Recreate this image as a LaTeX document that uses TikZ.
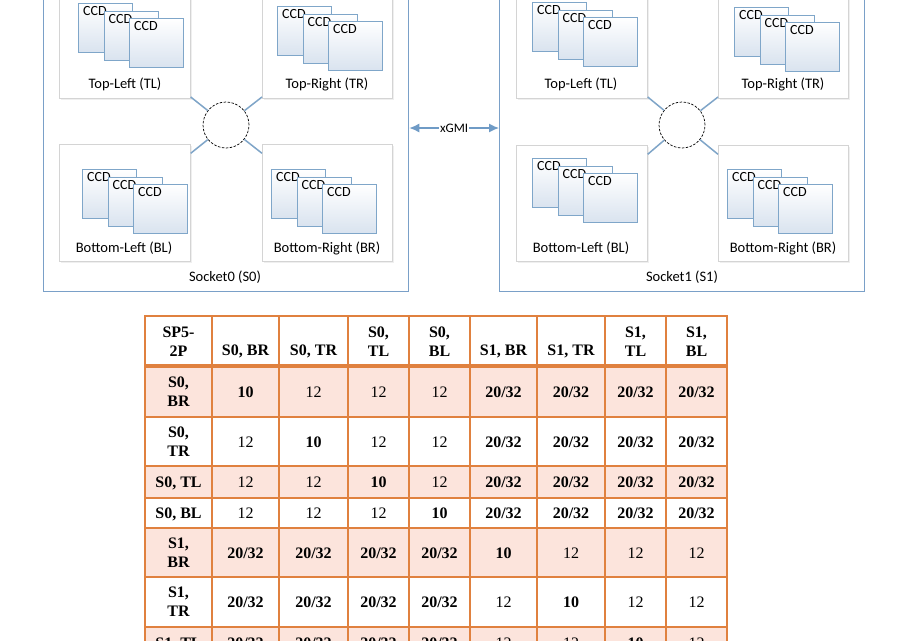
\documentclass[tikz,border=0pt]{standalone}
\usepackage{fontspec}
\setmainfont{Carlito}
\newfontfamily\tabfont{Liberation Serif}
\usetikzlibrary{arrows.meta,shadows}
\definecolor{sockblue}{HTML}{7AA0C8}
\definecolor{ccdblue}{HTML}{7FA6C9}
\definecolor{ccdfill}{HTML}{D9E3EF}
\definecolor{linkblue}{HTML}{7FA5C8}
\definecolor{arrblue}{HTML}{6F9BC6}
\definecolor{tilegray}{HTML}{D4D4D4}
\definecolor{tabor}{HTML}{E0813F}
\definecolor{tabpink}{HTML}{FCE4DC}
\newcommand\ccdstack[3]{%
  \foreach \k/\dx/\dy in {a/0/0,b/25.5/8,c/51/15}{%
    \node[ccdbox, anchor=north west] (#1\k) at (#2+\dx,#3+\dy) {};
    \node[ccdlab, anchor=north west] at ([xshift=5pt,yshift=-3pt]#1\k.north west) {CCD};
  }}
\newcommand\tabrow[3]{%
  \foreach \x/\v/\s [count=\i] in {#3}{%
    \node[\s, anchor=base] (#2-\i) at (\x,#1) {\v};
  }}
\begin{document}
\begin{tikzpicture}[x=1pt,y=-1pt,
  socket/.style={draw=sockblue, line width=1.3pt, inner sep=0pt},
  tile/.style={draw=tilegray, line width=0.7pt, fill=white, inner sep=0pt,
    drop shadow={shadow xshift=1.2pt, shadow yshift=-1.2pt, opacity=0.12}},
  ccdbox/.style={draw=ccdblue, line width=1.1pt, top color=white, bottom color=ccdfill,
    minimum width=54pt, minimum height=49pt, inner sep=0pt},
  ccdlab/.style={font=\fontsize{14}{16}\selectfont, inner sep=0pt},
  lab/.style={font=\fontsize{14.5}{16}\selectfont, inner sep=0pt},
  hub/.style={circle, draw=black, line width=0.7pt, dash pattern=on 2.5pt off 1.5pt,
    minimum size=46pt, inner sep=0pt},
  link/.style={draw=linkblue, line width=1.5pt},
  xarrow/.style={draw=arrblue, line width=1.3pt,
    {Latex[length=10pt,width=9pt]}-{Latex[length=10pt,width=9pt]}},
  xlab/.style={fill=white, inner sep=1pt, font=\fontsize{13}{15}\selectfont},
  tline/.style={draw=tabor, line width=2.2pt},
  tb/.style={font=\tabfont\bfseries\fontsize{16}{19}\selectfont, inner sep=0pt},
  tr/.style={font=\tabfont\fontsize{16}{19}\selectfont, inner sep=0pt}
]
\useasboundingbox (0,0) rectangle (915,640);
\clip (0,0) rectangle (915,640);
\fill[white] (0,0) rectangle (915,640);

% ---------- sockets ----------
\node[socket, minimum width=365pt, minimum height=340pt, anchor=south west] (s0) at (43,292) {};
\node[socket, minimum width=365pt, minimum height=340pt, anchor=south west] (s1) at (499,292) {};

% ---------- tiles socket 0 ----------
\node[tile, minimum width=131pt, minimum height=125pt, anchor=south west] (s0tl) at (59,99) {};
\node[tile, minimum width=130pt, minimum height=125pt, anchor=south west] (s0tr) at (262,99) {};
\node[tile, minimum width=131pt, minimum height=117pt, anchor=south west] (s0bl) at (59,262) {};
\node[tile, minimum width=130pt, minimum height=117pt, anchor=south west] (s0br) at (262,262) {};
% ---------- tiles socket 1 ----------
\node[tile, minimum width=131pt, minimum height=125pt, anchor=south west] (s1tl) at (516,99) {};
\node[tile, minimum width=130pt, minimum height=125pt, anchor=south west] (s1tr) at (718,99) {};
\node[tile, minimum width=131pt, minimum height=116pt, anchor=south west] (s1bl) at (516,262) {};
\node[tile, minimum width=130pt, minimum height=116pt, anchor=south west] (s1br) at (718,262) {};

% ---------- CCD stacks ----------
\ccdstack{s0tlc}{78}{3}
\ccdstack{s0trc}{277}{6}
\ccdstack{s0blc}{82}{169}
\ccdstack{s0brc}{271}{169}
\ccdstack{s1tlc}{532}{2}
\ccdstack{s1trc}{734}{7}
\ccdstack{s1blc}{532}{158}
\ccdstack{s1brc}{727}{169}

% ---------- tile labels ----------
\node[lab] (s0tlt) at (125,84) {Top-Left (TL)};
\node[lab] (s0trt) at (327,84) {Top-Right (TR)};
\node[lab] (s0blt) at (124,248) {Bottom-Left (BL)};
\node[lab] (s0brt) at (327,248) {Bottom-Right (BR)};
\node[lab] (s1tlt) at (581,84) {Top-Left (TL)};
\node[lab] (s1trt) at (783,84) {Top-Right (TR)};
\node[lab] (s1blt) at (581,248) {Bottom-Left (BL)};
\node[lab] (s1brt) at (783,248) {Bottom-Right (BR)};
\node[lab] (s0t) at (225,277) {Socket0 (S0)};
\node[lab] (s1t) at (682,277) {Socket1 (S1)};

% ---------- hubs and links ----------
\node[hub] (hubA) at (226,125) {};
\node[hub] (hubB) at (682,125) {};
\draw[link] ([yshift=2pt]s0tl.south east) -- (hubA);
\draw[link] ([yshift=2pt]s0tr.south west) -- (hubA);
\draw[link] ([yshift=-9pt]s0bl.north east) -- (hubA);
\draw[link] ([yshift=-9pt]s0br.north west) -- (hubA);
\draw[link] ([yshift=2pt]s1tl.south east) -- (hubB);
\draw[link] ([yshift=2pt]s1tr.south west) -- (hubB);
\draw[link] ([yshift=-9pt]s1bl.north east) -- (hubB);
\draw[link] ([yshift=-9pt]s1br.north west) -- (hubB);

% ---------- xGMI ----------
\draw[xarrow] (s0.east |- 0,128) -- node[xlab] (xg) {xGMI} (s1.west |- 0,128);

% ---------- table ----------
\fill[tabpink] (145,366) rectangle (727,417);
\fill[tabpink] (145,466) rectangle (727,498);
\fill[tabpink] (145,528) rectangle (727,577);
\fill[tabpink] (145,627) rectangle (727,662);
\foreach \x in {212,279,348,409,470,537,605,666} \draw[tline] (\x,316) -- (\x,662);
\foreach \y in {417,466,498,528,577,627} \draw[tline] (145,\y) -- (727,\y);
\draw[tline, line width=3.6pt] (145,366) -- (727,366);
\draw[tline, line width=2.6pt] (145,662) -- (145,316) -- (727,316) -- (727,662);

% header
\node[tb, align=center] (th0) at (178.5,341.5) {SP5-\\2P};
\node[tb, anchor=base] (th1) at (245.5,355.5) {S0, BR};
\node[tb, anchor=base] (th2) at (313.5,355.5) {S0, TR};
\node[tb, align=center] (th3) at (378.5,341.5) {S0,\\TL};
\node[tb, align=center] (th4) at (439.5,341.5) {S0,\\BL};
\node[tb, anchor=base] (th5) at (503.5,355.5) {S1, BR};
\node[tb, anchor=base] (th6) at (571,355.5) {S1, TR};
\node[tb, align=center] (th7) at (635.5,341.5) {S1,\\TL};
\node[tb, align=center] (th8) at (696.5,341.5) {S1,\\BL};

% row labels
\node[tb, align=center] (rl1) at (178.5,391.5) {S0,\\BR};
\node[tb, align=center] (rl2) at (178.5,441.5) {S0,\\TR};
\node[tb, anchor=base] (rl3) at (178.5,487.5) {S0, TL};
\node[tb, anchor=base] (rl4) at (178.5,518.5) {S0, BL};
\node[tb, align=center] (rl5) at (178.5,552.5) {S1,\\BR};
\node[tb, align=center] (rl6) at (178.5,602) {S1,\\TR};
\node[tb, anchor=base] (rl7) at (178.5,648) {S1, TL};

% values
\tabrow{397}{ra}{245.5/10/tb,313.5/12/tr,378.5/12/tr,439.5/12/tr,503.5/{20/32}/tb,571/{20/32}/tb,635.5/{20/32}/tb,696.5/{20/32}/tb}
\tabrow{447}{rb}{245.5/12/tr,313.5/10/tb,378.5/12/tr,439.5/12/tr,503.5/{20/32}/tb,571/{20/32}/tb,635.5/{20/32}/tb,696.5/{20/32}/tb}
\tabrow{487.5}{rc}{245.5/12/tr,313.5/12/tr,378.5/10/tb,439.5/12/tr,503.5/{20/32}/tb,571/{20/32}/tb,635.5/{20/32}/tb,696.5/{20/32}/tb}
\tabrow{518.5}{rd}{245.5/12/tr,313.5/12/tr,378.5/12/tr,439.5/10/tb,503.5/{20/32}/tb,571/{20/32}/tb,635.5/{20/32}/tb,696.5/{20/32}/tb}
\tabrow{558}{re}{245.5/{20/32}/tb,313.5/{20/32}/tb,378.5/{20/32}/tb,439.5/{20/32}/tb,503.5/10/tb,571/12/tr,635.5/12/tr,696.5/12/tr}
\tabrow{607.5}{rf}{245.5/{20/32}/tb,313.5/{20/32}/tb,378.5/{20/32}/tb,439.5/{20/32}/tb,503.5/12/tr,571/10/tb,635.5/12/tr,696.5/12/tr}
\tabrow{648}{rg}{245.5/{20/32}/tb,313.5/{20/32}/tb,378.5/{20/32}/tb,439.5/{20/32}/tb,503.5/12/tr,571/12/tr,635.5/10/tb,696.5/12/tr}
\end{tikzpicture}
\end{document}
